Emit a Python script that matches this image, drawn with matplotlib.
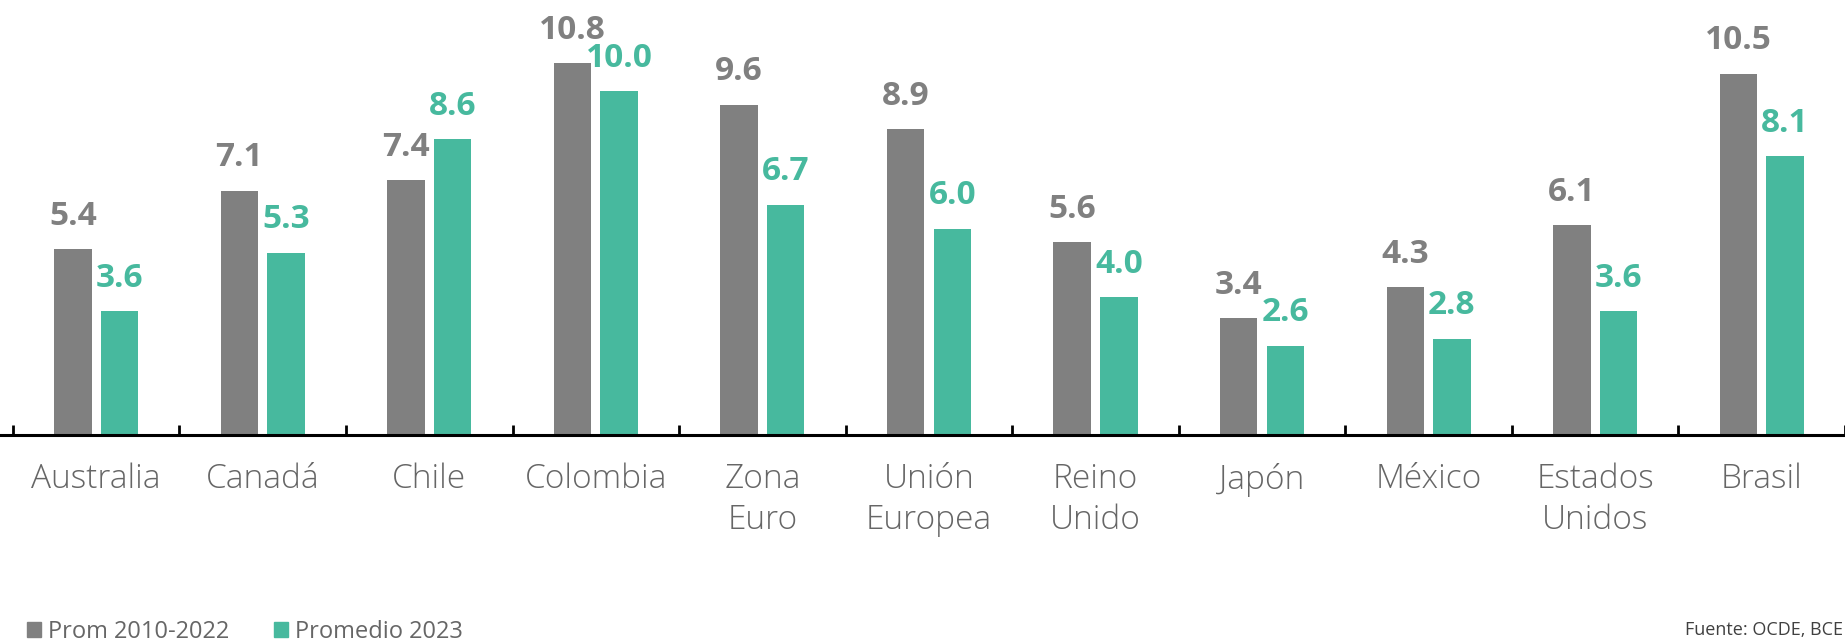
import numpy as np
import matplotlib
matplotlib.use("Agg")
from matplotlib import pyplot as plt
from matplotlib.patches import Patch

paises = ["Australia", "Canadá", "Chile", "Colombia", "Zona\nEuro", "Unión\nEuropea",
          "Reino\nUnido", "Japón", "México", "Estados\nUnidos", "Brasil"]
prom_2010_2022 = [5.4, 7.1, 7.4, 10.8, 9.6, 8.9, 5.6, 3.4, 4.3, 6.1, 10.5]
promedio_2023 = [3.6, 5.3, 8.6, 10.0, 6.7, 6.0, 4.0, 2.6, 2.8, 3.6, 8.1]

gris = "#808080"
verde = "#47b99e"
texto = "#666666"

plt.rcParams['font.family'] = ['Open Sans', 'DejaVu Sans']

fig = plt.figure(figsize=(18.45, 6.43), dpi=100)
ax = fig.add_axes([0, 1 - 435 / 643, 1, 435 / 643])

x = np.arange(len(paises))
ancho = 0.225
b1 = ax.bar(x - 0.14, prom_2010_2022, ancho, color=gris)
b2 = ax.bar(x + 0.14, promedio_2023, ancho, color=verde)

# etiquetas de valor sobre cada barra
for barras, col in [(b1, gris), (b2, verde)]:
    for b in barras:
        ax.annotate(f"{b.get_height():.1f}", (b.get_x() + b.get_width() / 2, b.get_height()),
                    xytext=(0, 17.5), textcoords="offset points", ha="center", va="baseline",
                    fontsize=24, fontweight="bold", color=col)

ax.set_xlim(-0.5 - 13 / 167.5, -0.5 + (1845 - 13) / 167.5)
ax.set_ylim(0, 435 / 34.4)

for s in ["top", "right", "left"]:
    ax.spines[s].set_visible(False)
ax.spines["bottom"].set_linewidth(2.2)
ax.spines["bottom"].set_color("black")
ax.set_yticks([])

ax.set_xticks(x)
ax.set_xticklabels(paises, fontsize=24, color=texto, fontweight="light", linespacing=1.28)
ax.set_xticks(np.arange(-0.5, len(paises) + 0.5, 1), minor=True)
ax.tick_params(axis="x", which="major", length=0, pad=20)
ax.tick_params(axis="x", which="minor", length=7.5, width=2, direction="in", color="black")

handles = [Patch(color=gris, label="Prom 2010-2022"), Patch(color=verde, label="Promedio 2023")]
fig.legend(handles=handles, loc="lower left", bbox_to_anchor=(0.003, -0.035), ncol=2,
           frameon=False, fontsize=17, handlelength=0.6, handleheight=0.6,
           handletextpad=0.3, columnspacing=1.9, labelcolor=texto)

fig.text(0.999, 1 - 630 / 643, "Fuente: OCDE, BCE", fontsize=13, color="#404040",
         ha="right", va="center")

fig.savefig("out.png", dpi=100)
